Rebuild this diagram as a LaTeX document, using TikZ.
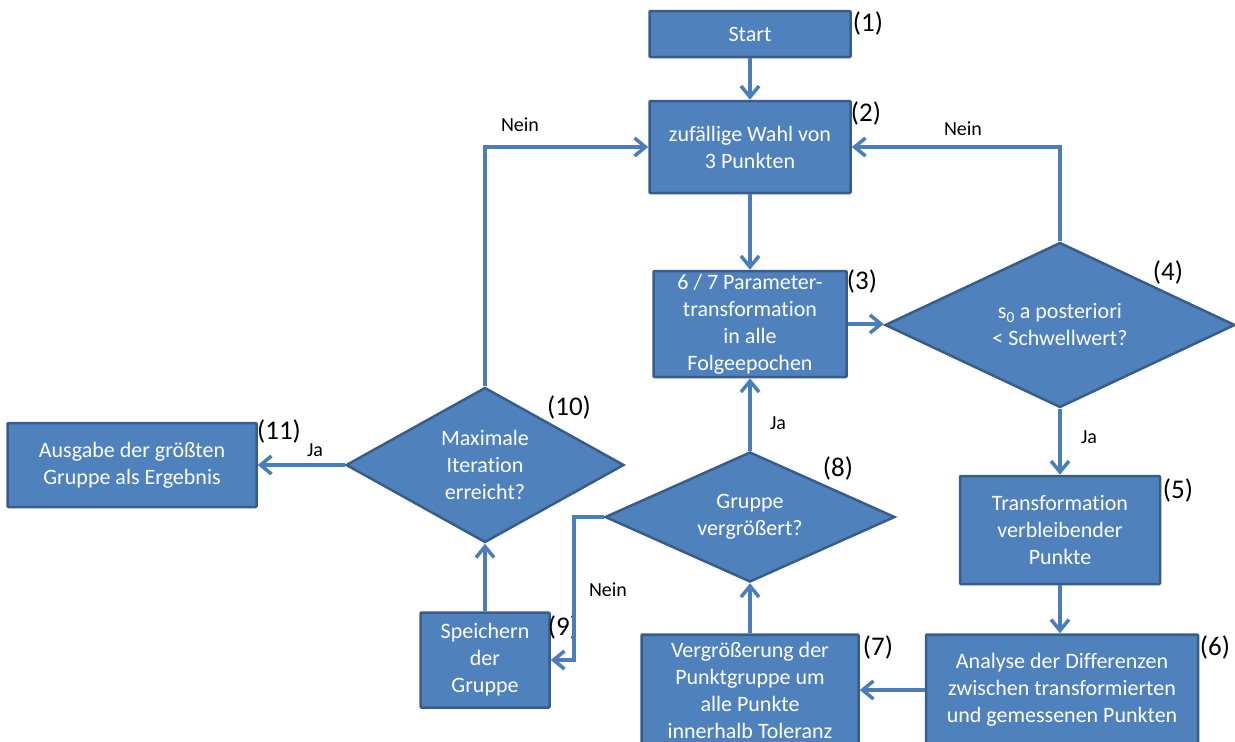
\documentclass[tikz,border=0pt]{standalone}
\usepackage{fontspec}
\setmainfont{Carlito}[RawFeature={-liga;-clig;-calt;-dlig}]
\usepackage{tikz}
\usetikzlibrary{arrows.meta,shapes.geometric}
\definecolor{fuellung}{HTML}{4F81BD}
\definecolor{rand}{HTML}{385D8A}
\definecolor{linie}{HTML}{4A7EBB}
\tikzset{
kasten/.style={draw=rand,fill=fuellung,line width=2.5pt,rounded corners=1pt,text=white,align=center,inner sep=0pt,font=\fontsize{22}{27}\selectfont},
raute/.style={diamond,draw=rand,fill=fuellung,line width=2.5pt,text=white,align=center,inner sep=0pt,font=\fontsize{22}{27}\selectfont},
nummer/.style={font=\fontsize{27}{30}\selectfont},
antwort/.style={font=\fontsize{20}{24}\selectfont},
pfeil/.style={draw=linie,line width=3.5pt,-{Straight Barb[length=11pt,width=18pt]}}
}

\begin{document}
\begin{tikzpicture}[x=1pt,y=-1pt]
\useasboundingbox (0,0) rectangle (1235,742);
% Kaesten
\node[kasten,minimum width=201,minimum height=46] (start) at (750,34) {Start};
\node[kasten,minimum width=201,minimum height=92] (wahl) at (750,147) {zufällige Wahl von\\3 Punkten};
\node[kasten,minimum width=193,minimum height=106] (trafo) at (750,324) {6 / 7 Parameter-\\transformation\\in alle\\Folgeepochen};
\node[kasten,minimum width=200,minimum height=108] (rest) at (1060,530) {Transformation\\verbleibender\\Punkte};
\node[kasten,minimum width=272,minimum height=111] (analyse) at (1062,690) {Analyse der Differenzen\\zwischen transformierten\\und gemessenen Punkten};
\node[kasten,minimum width=217,minimum height=111] (vergr) at (750,690) {Vergrößerung der\\Punktgruppe um\\alle Punkte\\innerhalb Toleranz};
\node[kasten,minimum width=129,minimum height=95] (speichern) at (485,660) {Speichern\\der\\Gruppe};
\node[kasten,minimum width=249,minimum height=84] (ausgabe) at (132,465) {Ausgabe der größten\\Gruppe als Ergebnis};
% Rauten
\node[raute,aspect=2.12,minimum width=350,minimum height=165] (schwelle) at (1060,325) {s\textsubscript{0} a posteriori\\< Schwellwert?};
\node[raute,aspect=2.23,minimum width=290,minimum height=130] (gruppe) at (750,517) {Gruppe\\vergrößert?};
\node[raute,aspect=1.79,minimum width=278,minimum height=155] (iter) at (485,465) {Maximale\\Iteration\\erreicht?};
% Nummern
\node[nummer] (n1) at (868,23) {(1)};
\node[nummer] (n2) at (866,113) {(2)};
\node[nummer] (n3) at (862,281) {(3)};
\node[nummer] (n4) at (1168,272) {(4)};
\node[nummer] (n5) at (1178,490) {(5)};
\node[nummer] (n6) at (1215,647) {(6)};
\node[nummer] (n7) at (878,647) {(7)};
\node[nummer] (n8) at (838,468) {(8)};
\node[nummer] (n9) at (563,627) {(9)};
\node[nummer] (n10) at (569,407) {(10)};
\node[nummer] (n11) at (279,431) {(11)};
% Antworten
\node[antwort] (nein1) at (520,125) {Nein};
\node[antwort] (nein2) at (963,129) {Nein};
\node[antwort] (ja1) at (1089,437) {Ja};
\node[antwort] (ja2) at (778,423) {Ja};
\node[antwort] (nein3) at (608,590) {Nein};
\node[antwort] (ja3) at (315,450) {Ja};
% Pfeile
\draw[pfeil] (start.south) -- (wahl.north);
\draw[pfeil] (wahl.south) -- (trafo.north);
\draw[pfeil] (trafo.east) -- (trafo.east -| schwelle.west);
\draw[pfeil] (schwelle.north) |- (wahl.east);
\draw[pfeil] (schwelle.south) -- (rest.north);
\draw[pfeil] (rest.south) -- (rest.south |- analyse.north);
\draw[pfeil] (analyse.west) -- (vergr.east);
\draw[pfeil] (vergr.north) -- (gruppe.south);
\draw[pfeil] (gruppe.north) -- (trafo.south);
\draw[pfeil] (gruppe.west) -- ++(-30,0) |- (speichern.east);
\draw[pfeil] (speichern.north) -- (iter.south);
\draw[pfeil] (iter.north) |- (wahl.west);
\draw[pfeil] (iter.west) -- (ausgabe.east);
\end{tikzpicture}
\end{document}
